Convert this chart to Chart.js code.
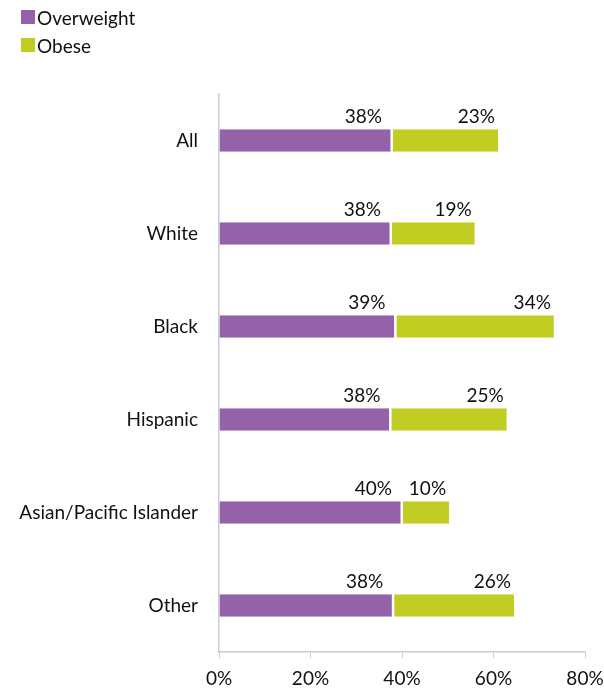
<!DOCTYPE html>
<html>
<head>
<meta charset="utf-8">
<script src="https://cdn.jsdelivr.net/npm/chart.js@4/dist/chart.umd.min.js"></script>
<style>
  html, body { margin: 0; padding: 0; background: #fff; }
  #wrap { position: relative; width: 604px; height: 690px; }
  #legend { position: absolute; left: 21px; top: 3px; font-family: Lato, sans-serif; font-size: 19px; color: #111; }
  #legend .item { display: flex; align-items: center; height: 28px; }
  #legend .box { width: 14px; height: 14px; margin-right: 2px; }
  canvas { position: absolute; left: 0; top: 0; }
</style>
</head>
<body>
<div id="wrap">
  <canvas id="c" width="604" height="690"></canvas>
  <div id="legend"></div>
</div>
<script>
const categories = ["All", "White", "Black", "Hispanic", "Asian/Pacific Islander", "Other"];
const overweight = [37.8, 37.6, 38.6, 37.5, 40.0, 38.1];
const obese = [23.2, 18.3, 34.6, 25.4, 10.3, 26.4];
const overweightLabels = ["38%", "38%", "39%", "38%", "40%", "38%"];
const obeseLabels = ["23%", "19%", "34%", "25%", "10%", "26%"];
const seriesNames = ["Overweight", "Obese"];
const seriesColors = ["#9561A8", "#C2CD23"];
const xTicks = [0, 20, 40, 60, 80];

const axisColor = "#C5CDD8";
const fontFamily = "Lato, sans-serif";
const labelSets = [overweightLabels, obeseLabels];

// HTML legend
const legendEl = document.getElementById("legend");
seriesNames.forEach((n, i) => {
  const d = document.createElement("div");
  d.className = "item";
  d.innerHTML = '<span class="box" style="background:' + seriesColors[i] + '"></span><span>' + n + '</span>';
  legendEl.appendChild(d);
});

const labelPlugin = {
  id: "segLabels",
  afterDatasetsDraw(chart) {
    const ctx = chart.ctx;
    ctx.save();
    ctx.font = "19px " + fontFamily;
    ctx.fillStyle = "#111";
    ctx.textAlign = "right";
    ctx.textBaseline = "alphabetic";
    chart.data.datasets.forEach((ds, di) => {
      const meta = chart.getDatasetMeta(di);
      const offset = di === 0 ? -10 : -3;
      meta.data.forEach((el, i) => {
        const top = el.y - el.height / 2;
        ctx.fillText(labelSets[di][i], el.x + offset, top - 6);
      });
    });
    ctx.restore();
  }
};

new Chart(document.getElementById("c"), {
  type: "bar",
  data: {
    labels: categories,
    datasets: [
      { label: seriesNames[0], data: overweight, backgroundColor: seriesColors[0], borderColor: "#ffffff", borderWidth: {right: 1.5, top: 0, bottom: 0, left: 0}, borderSkipped: false },
      { label: seriesNames[1], data: obese, backgroundColor: seriesColors[1], borderColor: "#ffffff", borderWidth: {left: 1, top: 0, bottom: 0, right: 0}, borderSkipped: false }
    ]
  },
  options: {
    indexAxis: "y",
    responsive: false,
    animation: false,
    devicePixelRatio: 1,
    layout: { padding: { top: 94, right: 19, left: 0, bottom: 0 } },
    plugins: { legend: { display: false }, tooltip: { enabled: false } },
    datasets: { bar: { categoryPercentage: 1, barPercentage: 0.24 } },
    scales: {
      x: {
        stacked: true,
        min: 0, max: 80,
        afterBuildTicks(axis) { axis.ticks = xTicks.map(v => ({ value: v })); },
        afterFit(axis) { axis.height = 38; axis.paddingLeft = 0; axis.paddingRight = 0; },
        grid: { display: true, drawOnChartArea: false, drawTicks: true, tickLength: 6, color: axisColor },
        border: { display: true, color: axisColor, width: 1.5 },
        ticks: { color: "#111", font: { family: fontFamily, size: 19 }, padding: 9, callback: v => v + "%", maxRotation: 0 }
      },
      y: {
        stacked: true,
        afterFit(axis) { axis.width = 219; axis.paddingTop = 0; axis.paddingBottom = 0; },
        grid: { display: false },
        border: { display: true, color: axisColor, width: 1.5 },
        ticks: { color: "#111", font: { family: fontFamily, size: 19 }, padding: 13 }
      }
    }
  },
  plugins: [labelPlugin]
});
</script>
</body>
</html>
